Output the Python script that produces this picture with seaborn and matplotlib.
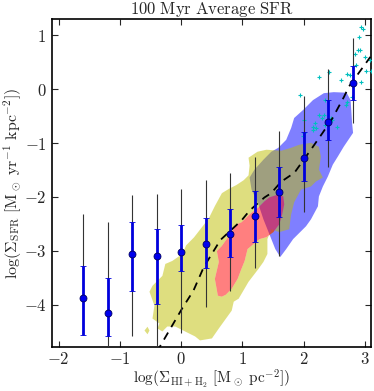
import numpy as np
import pandas as pd
import matplotlib
matplotlib.use("Agg")
import matplotlib.pyplot as plt
import seaborn as sns
from matplotlib.path import Path
from matplotlib.patches import PathPatch
from matplotlib.ticker import FuncFormatter

# ---------------- data ----------------
bin_x = [-1.6, -1.2, -0.8, -0.4, 0.0, 0.4, 0.8, 1.2, 1.6, 2.0, 2.4, 2.8]
bin_mean = [-3.87, -4.15, -3.06, -3.09, -3.02, -2.87, -2.69, -2.35, -1.91, -1.27, -0.61, 0.12]
std_hi = [-3.28, -3.51, -2.47, -2.60, -2.53, -2.39, -2.22, -1.89, -1.44, -0.79, -0.20, 0.43]
std_lo = [-4.56, -4.59, -3.74, -3.98, -3.37, -3.32, -3.12, -2.84, -2.38, -1.70, -0.94, -0.20]
range_hi = [-2.32, -2.47, -1.97, -1.95, -1.85, -1.68, -1.55, -1.26, -0.78, -0.12, 0.38, 0.95]
range_lo = [-4.57, -5.20, -4.58, -5.20, -4.52, -4.04, -3.74, -3.32, -3.10, -2.28, -1.44, -0.62]

model_x = [-0.40, 0.016, 0.20, 0.37, 0.64, 0.99, 1.12, 1.36, 1.47, 1.63, 1.85, 2.12, 2.31, 2.47, 2.66, 2.74, 3.09]
model_y = [-4.88, -4.07, -3.74, -3.30, -2.80, -2.43, -2.25, -2.01, -1.93, -1.72, -1.55, -1.12, -0.81, -0.54, -0.14, 0.05, 0.60]

cyan_x = [1.934, 2.254, 2.411, 2.929, 2.977, 2.901, 2.885, 2.921, 2.832, 3.010, 3.091, 2.848, 3.026, 3.102,
          2.714, 2.756, 2.605, 2.940, 2.794, 2.714, 2.686, 2.351, 2.011, 2.254, 2.293, 2.147, 2.189, 2.540,
          2.346, 2.471, 2.147, 2.201, 1.985, 2.011, 2.443, 2.335]
cyan_y = [-0.111, 0.227, 0.319, 1.148, 1.115, 0.964, 0.732, 0.719, 0.645, 0.595, 0.547, 0.455, 0.337, 0.337,
          0.276, 0.258, 0.166, 0.142, -0.142, -0.234, -0.295, -0.203, -0.571, -0.479, -0.540, -0.695, -0.632, -0.695,
          -0.664, -0.571, -0.756, -0.724, -0.866, -0.817, -0.540, -0.479]

blue_x = [1.845, 1.990, 2.152, 2.330, 2.492, 2.702, 2.767, 2.791, 2.807, 2.654, 2.557, 2.476, 2.395, 2.314,
          2.249, 2.233, 2.120, 2.039, 1.958, 1.828, 1.715, 1.618, 1.537, 1.440, 1.343, 1.262, 1.149, 1.117,
          1.197, 1.343, 1.472, 1.586, 1.715, 1.796]
blue_y = [-0.535, -0.387, -0.203, -0.074, -0.055, -0.065, -0.203, -0.627, -0.811, -1.069, -1.253, -1.401,
          -1.622, -1.806, -1.991, -2.175, -2.415, -2.544, -2.636, -2.783, -2.968, -3.115, -2.968, -2.691,
          -2.415, -2.138, -1.862, -1.641, -1.493, -1.309, -1.161, -1.088, -0.940, -0.719]

yellow_x = [1.100, 1.246, 1.392, 1.634, 1.796, 1.926, 2.120, 2.249, 2.282, 2.249, 2.314, 2.201, 2.120, 1.958,
            1.845, 1.796, 1.764, 1.602, 1.472, 1.408, 1.408, 1.343, 1.262, 1.100, 0.939, 0.858, 0.825, 0.615,
            0.502, 0.307, 0.227, 0.129, -0.097, -0.227, -0.307, -0.388, -0.356, -0.469, -0.437, -0.518,
            -0.469, -0.307, -0.259, -0.146, 0.020, 0.080, 0.210, 0.340, 0.450, 0.550, 0.665, 0.780, 0.900,
            1.020, 1.100, 1.117]
yellow_y = [-1.272, -1.161, -1.124, -1.143, -1.088, -1.032, -0.995, -1.069, -1.253, -1.493, -1.641, -1.714,
            -1.806, -1.862, -2.101, -2.323, -2.599, -2.654, -2.599, -2.783, -3.060, -3.207, -3.336, -3.576,
            -3.889, -3.945, -4.111, -4.442, -4.627, -4.664, -4.590, -4.535, -4.406, -4.406, -4.498, -4.442,
            -4.350, -4.258, -4.018, -3.760, -3.650, -3.465, -3.244, -3.189, -3.060, -2.900, -2.750, -2.560,
            -2.400, -2.170, -1.930, -1.850, -1.780, -1.690, -1.600, -1.419]
yellow_dot_x = [-0.599, -0.550, -0.518, -0.550]
yellow_dot_y = [-4.48, -4.41, -4.48, -4.55]

red_x = [0.599, 0.550, 0.615, 0.583, 0.663, 0.777, 0.906, 0.987, 1.117, 1.262, 1.359, 1.440, 1.586, 1.667,
         1.683, 1.650, 1.602, 1.505, 1.392, 1.278, 1.084, 1.036, 0.971, 0.922, 0.825, 0.728, 0.663]
red_y = [-3.834, -3.521, -3.207, -3.005, -2.912, -2.728, -2.507, -2.470, -2.323, -2.194, -2.083, -2.009,
         -1.954, -1.991, -2.138, -2.323, -2.507, -2.654, -2.747, -2.783, -2.968, -3.189, -3.373, -3.521,
         -3.705, -3.816, -3.852]

x_ticks = [-2, -1, 0, 1, 2, 3]
y_ticks = [-4, -3, -2, -1, 0, 1]

# ---------------- style ----------------
sns.set_style("ticks")
plt.rcParams.update({
    "mathtext.fontset": "cm",
    "font.family": ["DejaVu Serif"],
    "xtick.direction": "in", "ytick.direction": "in",
    "xtick.top": True, "ytick.right": True,
    "xtick.major.size": 4, "ytick.major.size": 4,
    "xtick.major.width": 0.8, "ytick.major.width": 0.8,
    "axes.linewidth": 1.0, "axes.edgecolor": "black",
})

fig = plt.figure(figsize=(3.74, 3.91), dpi=100)
ax = fig.add_axes([0.139, 0.112, 0.853, 0.839])


def ring(xs, ys, ccw):
    xs = np.asarray(xs, float); ys = np.asarray(ys, float)
    area = 0.5 * np.sum(xs * np.roll(ys, -1) - np.roll(xs, -1) * ys)
    if (area > 0) != ccw:
        xs, ys = xs[::-1], ys[::-1]
    verts = list(zip(xs, ys)) + [(xs[0], ys[0])]
    codes = [Path.MOVETO] + [Path.LINETO] * (len(xs) - 1) + [Path.CLOSEPOLY]
    return verts, codes


# blue region (bottom)
ax.fill(blue_x, blue_y, color=(0, 0, 1), alpha=0.5, lw=0, zorder=1)
# yellow region with the red region cut out
v1, c1 = ring(yellow_x, yellow_y, True)
v2, c2 = ring(red_x, red_y, False)
v3, c3 = ring(yellow_dot_x, yellow_dot_y, True)
ax.add_patch(PathPatch(Path(v1 + v2 + v3, c1 + c2 + c3), facecolor=(0.75, 0.75, 0), alpha=0.5, lw=0, zorder=2))
# red region
ax.fill(red_x, red_y, color=(1, 0, 0), alpha=0.5, lw=0, zorder=3)

# cyan points
sns.scatterplot(x=cyan_x, y=cyan_y, marker="+", color=(0, 0.75, 0.75), s=8, linewidth=0.8, ax=ax, zorder=4)

# model line
sns.lineplot(x=model_x, y=model_y, sort=False, estimator=None, color="k", lw=1.3, ax=ax, zorder=5)
ax.lines[-1].set_dashes([4.5, 3.5])

# range bars and std bars
bx = np.array(bin_x); bm = np.array(bin_mean)
ax.errorbar(bx, bm, yerr=[bm - np.array(range_lo), np.array(range_hi) - bm], fmt="none",
            ecolor="0.2", elinewidth=0.8, zorder=6)
ax.errorbar(bx, bm, yerr=[bm - np.array(std_lo), np.array(std_hi) - bm], fmt="o", color="#0000ee",
            ms=5, mec="#000060", mew=0.6, elinewidth=2.0, ecolor="#0000dd", capsize=2, capthick=0.8, zorder=7)

ax.set_xlim(-2.11, 3.1)
ax.set_ylim(-4.79, 1.3)
ax.set_xticks(x_ticks)
ax.set_yticks(y_ticks)
fmt = FuncFormatter(lambda v, p: r"$%d$" % int(round(v)))
ax.xaxis.set_major_formatter(fmt)
ax.yaxis.set_major_formatter(fmt)
ax.tick_params(axis="x", labelsize=12, pad=2.5)
ax.tick_params(axis="y", labelsize=12, pad=4)
for s in ax.spines.values():
    s.set_visible(True)
    s.set_linewidth(1.2)

ax.set_title(r"$\mathrm{100\ Myr\ Average\ SFR}$", fontsize=12, pad=3)
ax.set_xlabel(r"$\log(\Sigma_{\rm HI+H_2}\ [{\rm M_\odot\ pc^{-2}}])$", fontsize=11, labelpad=-0.5)
ax.set_ylabel(r"$\log(\Sigma_{\rm SFR}\ [{\rm M_\odot\ yr^{-1}\ kpc^{-2}}])$", fontsize=11.5, labelpad=0)

fig.savefig("out.png", dpi=100)
